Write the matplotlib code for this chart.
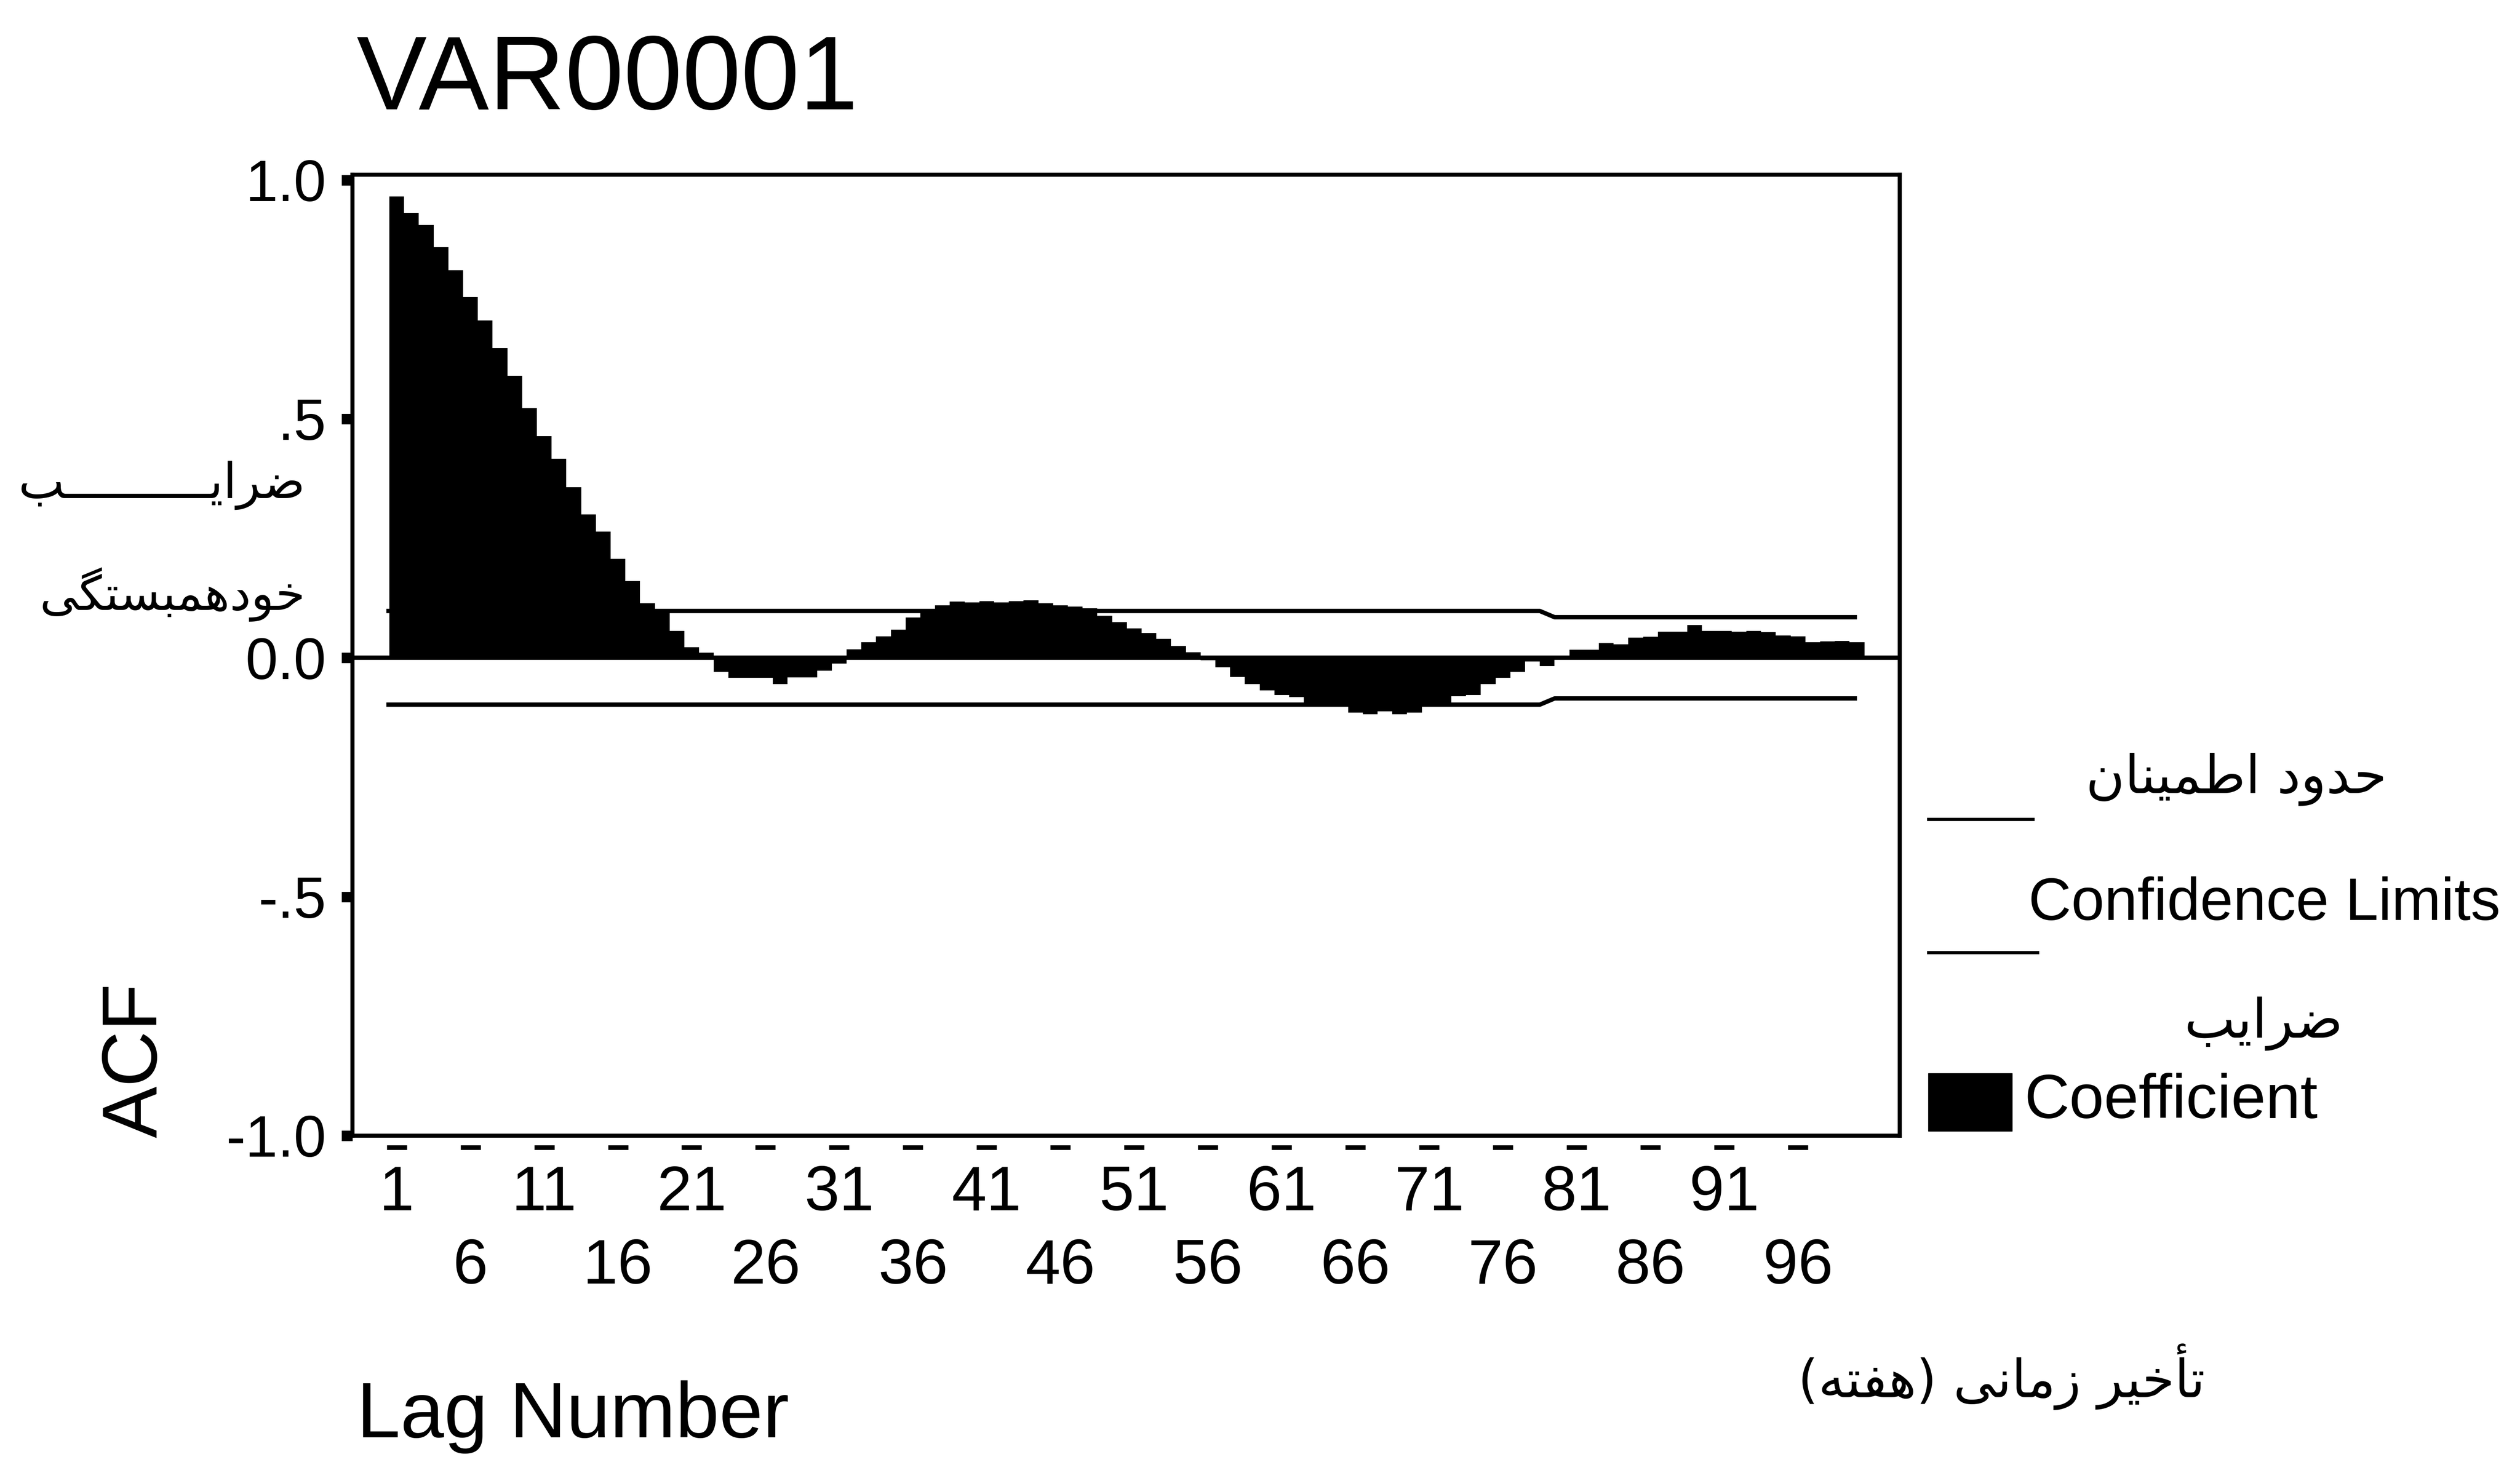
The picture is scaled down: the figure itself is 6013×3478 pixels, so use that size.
import unicodedata
import matplotlib
matplotlib.use('Agg')
import matplotlib.pyplot as plt
from matplotlib.lines import Line2D
from matplotlib.patches import Rectangle

# ACF values for lags 1..100
lags = list(range(1, 101))
acf = [0.965, 0.931, 0.906, 0.859, 0.811, 0.755, 0.706, 0.648, 0.590, 0.523,
       0.464, 0.417, 0.357, 0.300, 0.264, 0.207, 0.161, 0.114, 0.098, 0.056,
       0.022, 0.011, -0.030, -0.042, -0.042, -0.042, -0.055, -0.041, -0.041, -0.027,
       -0.012, 0.018, 0.033, 0.045, 0.059, 0.084, 0.098, 0.110, 0.118, 0.116,
       0.119, 0.116, 0.119, 0.120, 0.114, 0.110, 0.107, 0.104, 0.088, 0.075,
       0.062, 0.052, 0.040, 0.025, 0.012, -0.005, -0.020, -0.040, -0.055, -0.068,
       -0.078, -0.082, -0.098, -0.098, -0.100, -0.115, -0.118, -0.112, -0.118, -0.115,
       -0.098, -0.095, -0.080, -0.078, -0.055, -0.042, -0.030, -0.008, -0.017, -0.002,
       0.017, 0.017, 0.031, 0.028, 0.042, 0.044, 0.055, 0.055, 0.069, 0.056,
       0.056, 0.055, 0.056, 0.054, 0.047, 0.045, 0.033, 0.034, 0.035, 0.033]

# confidence limits (they narrow a little after lag 78)
conf_x = [0.3, 78.5, 79.5, 100]
conf_upper = [0.098, 0.098, 0.085, 0.085]
conf_lower = [-0.098, -0.098, -0.085, -0.085]

ytick_vals = [1.0, 0.5, 0.0, -0.5, -1.0]
ytick_labels = ['1.0', '.5', '0.0', '-.5', '-1.0']
xtick_labels = ['1', '6', '11', '16', '21', '26', '31', '36', '41', '46',
                '51', '56', '61', '66', '71', '76', '81', '86', '91', '96']

# matplotlib does no Arabic shaping / RTL, so pick presentation forms by hand
forms = {}
for cp in list(range(0xFB50, 0xFE00)) + list(range(0xFE70, 0xFF00)):
    d = unicodedata.decomposition(chr(cp)).split()
    if len(d) == 2 and d[0] in ('<isolated>', '<final>', '<initial>', '<medial>'):
        forms.setdefault(chr(int(d[1], 16)), {})[d[0][1:-1]] = chr(cp)
right_only = set('اآأإدذرزژوؤةء')


def joins(ch):
    return ch in forms or ch == 'ـ'


def fa(s):
    out = []
    for i, ch in enumerate(s):
        if ch not in forms:
            out.append(ch)
            continue
        prev = s[i - 1] if i > 0 else ''
        nxt = s[i + 1] if i + 1 < len(s) else ''
        p = joins(prev) and prev not in right_only and ch != 'ء'
        n = joins(nxt) and ch not in right_only and nxt != 'ء'
        key = 'medial' if p and n else 'final' if p else 'initial' if n else 'isolated'
        f = forms[ch]
        out.append(f.get(key, f.get('final' if p else 'isolated', ch)))
    mirror = {'(': ')', ')': '('}
    return ''.join(mirror.get(c, c) for c in reversed(out))


plt.rcParams['font.family'] = ['Liberation Sans', 'DejaVu Sans']
W, H = 6013, 3478
fig = plt.figure(figsize=(W / 100, H / 100), dpi=100)
ax = fig.add_axes([841 / W, 1 - 2711 / H, (4533 - 841) / W, (2711 - 417) / H])

ax.bar(lags, acf, width=1.0, color='black', linewidth=0)
ax.axhline(0, color='black', lw=7.5)
ax.plot(conf_x, conf_upper, color='black', lw=7.5, solid_capstyle='butt')
ax.plot(conf_x, conf_lower, color='black', lw=7.5, solid_capstyle='butt')

ax.set_xlim(-2.0, 102.9)
ax.set_ylim(-1.0, 1.011)
for s in ax.spines.values():
    s.set_linewidth(7)

ax.set_yticks(ytick_vals)
ax.set_yticklabels(ytick_labels)
ax.tick_params(axis='y', direction='out', length=19, width=18, pad=26, labelsize=100)

xpos = [int(t) for t in xtick_labels]
ax.set_xticks(xpos)
ax.set_xticklabels([t if i % 2 == 0 else '\n' + t for i, t in enumerate(xtick_labels)])
ax.tick_params(axis='x', length=0, pad=50, labelsize=108)
for t in ax.get_xticklabels():
    t.set_linespacing(1.32)
# the little dashes under the axis
ax.plot(xpos, [-0.012] * len(xpos), transform=ax.get_xaxis_transform(),
        ls='none', marker='_', ms=34, mew=8, color='black', clip_on=False)

fig.text(851 / W, 1 - 196 / H, 'VAR00001', ha='left', va='center', fontsize=181)
fig.text(851 / W, 1 - 3382 / H, 'Lag Number', ha='left', va='center', fontsize=135)
fig.text(326 / W, 1 - 2531 / H, 'ACF', rotation=90, ha='center', va='center', fontsize=133)

ar = dict(family='DejaVu Sans', ha='right', va='center')
fig.text(729 / W, 1 - 1158 / H, fa('ضرایــــــــــب'), fontsize=84, **ar)
fig.text(729 / W, 1 - 1419 / H, fa('خودهمبستگی'), fontsize=82, **ar)
fig.text(5262 / W, 1 - 3287 / H, fa('تأخیر زمانی (هفته)'), fontsize=90, **ar)

# legend on the right
fig.text(5695 / W, 1 - 1860 / H, fa('حدود اطمینان'), fontsize=91, **ar)
fig.add_artist(Line2D([4602 / W, 4851 / W], [1 - 1956 / H] * 2, color='black', lw=5.5))
fig.text(4840 / W, 1 - 2159 / H, 'Confidence Limits', ha='left', va='center', fontsize=102)
fig.add_artist(Line2D([4602 / W, 4862 / W], [1 - 2274 / H] * 2, color='black', lw=5.5))
fig.text(5591 / W, 1 - 2443 / H, fa('ضرایب'), fontsize=93, **ar)
fig.add_artist(Rectangle((4601 / W, 1 - 2700 / H), 200 / W, 138 / H,
                         transform=fig.transFigure, color='black'))
fig.text(4830 / W, 1 - 2631 / H, 'Coefficient', ha='left', va='center', fontsize=107)

fig.savefig('out.png', dpi=100, facecolor='white')
